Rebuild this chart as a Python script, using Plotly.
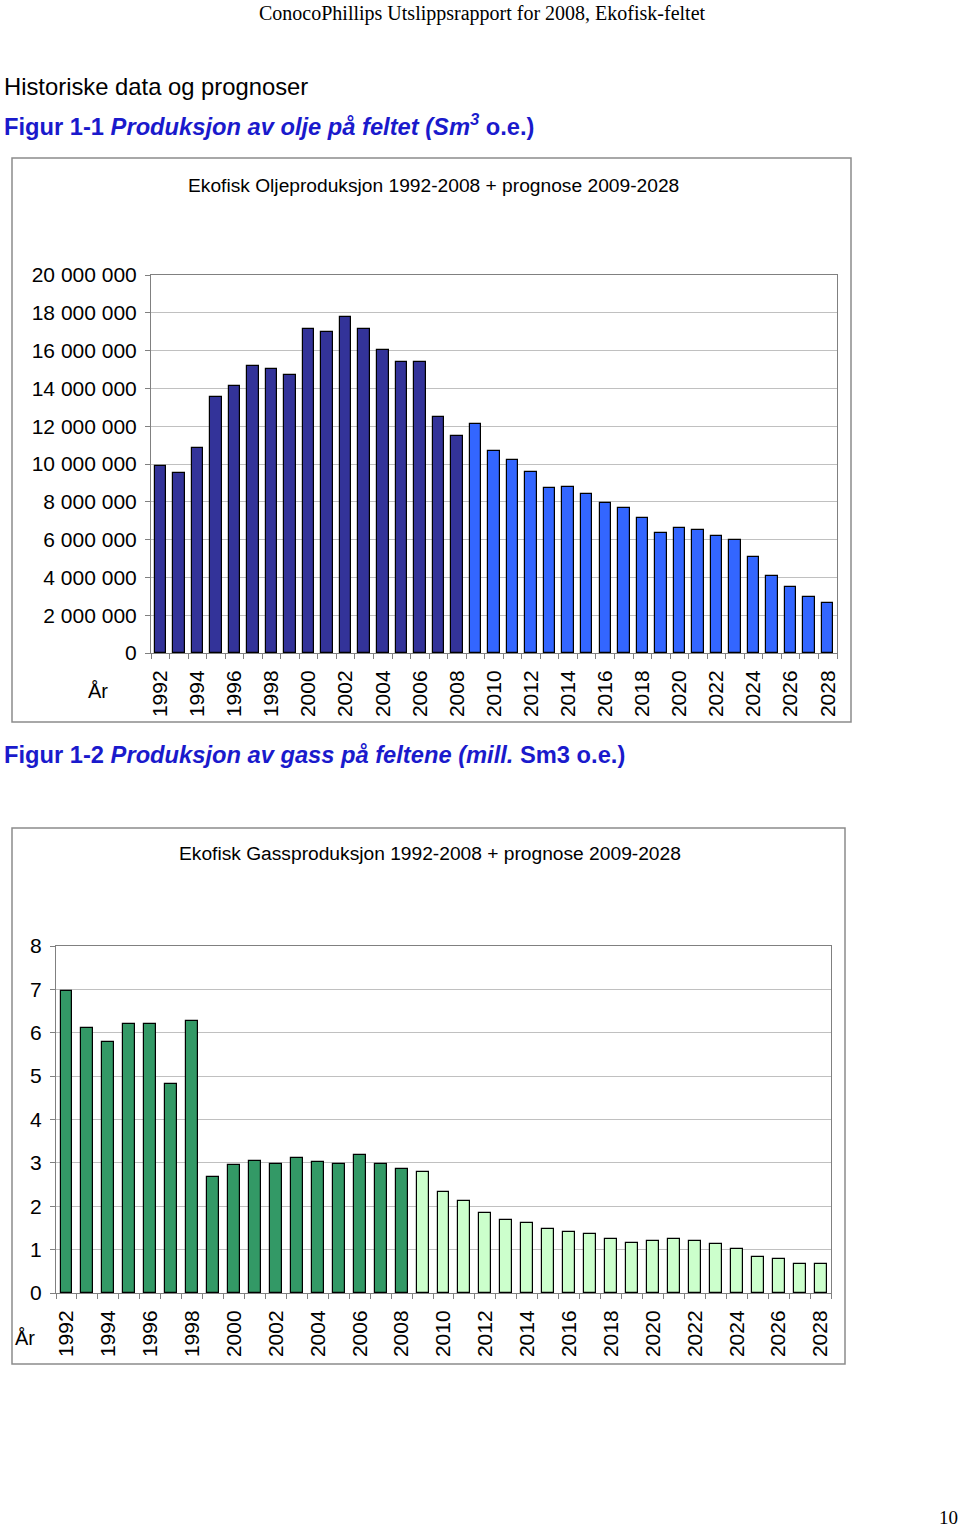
import plotly.graph_objects as go

# ---------------- data ----------------
hist_years = list(range(1992, 2009))
prog_years = list(range(2009, 2029))
tick_years = list(range(1992, 2029, 2))
tick_text = [str(y) for y in tick_years]

oil_hist = [9.89e6, 9.51e6, 10.83e6, 13.53e6, 14.15e6, 15.17e6, 15.01e6, 14.69e6,
            17.14e6, 16.98e6, 17.76e6, 17.14e6, 16.03e6, 15.41e6, 15.41e6, 12.50e6, 11.48e6]
oil_prog = [12.10e6, 10.69e6, 10.21e6, 9.59e6, 8.71e6, 8.80e6, 8.40e6, 7.92e6, 7.69e6, 7.13e6,
            6.35e6, 6.60e6, 6.51e6, 6.19e6, 5.96e6, 5.10e6, 4.07e6, 3.51e6, 2.95e6, 2.66e6]
oil_yvals = [0, 2e6, 4e6, 6e6, 8e6, 10e6, 12e6, 14e6, 16e6, 18e6, 20e6]
oil_ytext = ["0", "2 000 000", "4 000 000", "6 000 000", "8 000 000", "10 000 000",
             "12 000 000", "14 000 000", "16 000 000", "18 000 000", "20 000 000"]

gas_hist = [6.96, 6.10, 5.79, 6.20, 6.20, 4.83, 6.28, 2.67, 2.94, 3.05, 2.97, 3.12,
            3.01, 2.97, 3.18, 2.97, 2.87]
gas_prog = [2.78, 2.33, 2.12, 1.85, 1.68, 1.61, 1.47, 1.40, 1.36, 1.25, 1.16, 1.20,
            1.25, 1.20, 1.12, 1.02, 0.82, 0.78, 0.68, 0.68]
gas_yvals = [0, 1, 2, 3, 4, 5, 6, 7, 8]

# ---------------- layout helpers ----------------
W, H = 960, 1530
def px(x):
    return x / W
def py(y):
    return 1 - y / H

FONT = "Liberation Sans, Arial, sans-serif"
SERIF = "Liberation Serif, Times New Roman, serif"
GRID = "#c0c0c0"
AXIS = "#808080"
BLUE = "#1a1acc"

fig = go.Figure()

fig.add_trace(go.Bar(x=hist_years, y=oil_hist, marker=dict(color="#333399", line=dict(color="#000000", width=1.2)),
                     width=0.62, xaxis="x", yaxis="y", showlegend=False))
fig.add_trace(go.Bar(x=prog_years, y=oil_prog, marker=dict(color="#3366FF", line=dict(color="#000000", width=1.2)),
                     width=0.62, xaxis="x", yaxis="y", showlegend=False))
fig.add_trace(go.Bar(x=hist_years, y=gas_hist, marker=dict(color="#339966", line=dict(color="#000000", width=1.2)),
                     width=0.57, xaxis="x2", yaxis="y2", showlegend=False))
fig.add_trace(go.Bar(x=prog_years, y=gas_prog, marker=dict(color="#CCFFCC", line=dict(color="#000000", width=1.2)),
                     width=0.57, xaxis="x2", yaxis="y2", showlegend=False))

xcommon = dict(range=[1991.5, 2028.5], tickmode="array", tickvals=tick_years, ticktext=tick_text,
               tickangle=-90, ticks="", showgrid=False, showline=True, linecolor=AXIS, linewidth=1,
               mirror=True, zeroline=False, automargin=False,
               minor=dict(ticks="outside", tick0=1991.5, dtick=1, ticklen=5, tickcolor=AXIS, showgrid=False),
               tickfont=dict(family=FONT, size=21, color="#000000"), ticklabelstandoff=8)
ycommon = dict(showgrid=True, gridcolor=GRID, gridwidth=1, showline=True, linecolor=AXIS, linewidth=1,
               mirror=True, zeroline=False, ticks="outside", ticklen=5, tickcolor=AXIS, automargin=False,
               tickfont=dict(family=FONT, size=21, color="#000000"), ticklabelstandoff=4)

fig.update_layout(
    width=W, height=H, margin=dict(l=0, r=0, t=0, b=0, autoexpand=False),
    paper_bgcolor="#ffffff", plot_bgcolor="#ffffff", bargap=0, barmode="overlay",
    xaxis=dict(domain=[px(151), px(837)], anchor="y", **xcommon),
    yaxis=dict(domain=[py(653), py(275)], anchor="x", range=[0, 20e6], tickmode="array",
               tickvals=oil_yvals, ticktext=oil_ytext, **ycommon),
    xaxis2=dict(domain=[px(56), px(831)], anchor="y2", **xcommon),
    yaxis2=dict(domain=[py(1293), py(946)], anchor="x2", range=[0, 8], tickmode="array",
                tickvals=gas_yvals, ticktext=[str(v) for v in gas_yvals], **ycommon),
)

# chart frames
fig.add_shape(type="rect", xref="paper", yref="paper", x0=px(12), x1=px(851), y0=py(722), y1=py(158),
              line=dict(color="#8c8c8c", width=1.5), layer="below")
fig.add_shape(type="rect", xref="paper", yref="paper", x0=px(12), x1=px(845), y0=py(1364), y1=py(828),
              line=dict(color="#8c8c8c", width=1.5), layer="below")

def note(x, y, text, size, xanchor="left", color="#000000", family=FONT, yanchor="middle"):
    fig.add_annotation(x=px(x), y=py(y), xref="paper", yref="paper", text=text, showarrow=False,
                       xanchor=xanchor, yanchor=yanchor, font=dict(family=family, size=size, color=color))

note(482, 0, "ConocoPhillips Utslippsrapport for 2008, Ekofisk-feltet", 20, "center",
     family=SERIF, yanchor="top")
note(2, 86, "Historiske data og prognoser", 23.8)
note(2, 125, "<b>Figur 1-1 <i>Produksjon av olje på feltet (Sm</i><sup><i>3</i></sup> o.e.)</b>", 23.7,
     color=BLUE)
note(433, 185, "Ekofisk Oljeproduksjon 1992-2008 + prognose 2009-2028", 19.2, "center")
note(98, 691, "År", 20, "center")
note(2, 755, "<b>Figur 1-2 <i>Produksjon av gass på feltene (mill.</i> Sm3 o.e.)</b>", 23.7, color=BLUE)
note(430, 853, "Ekofisk Gassproduksjon 1992-2008 + prognose 2009-2028", 19.2, "center")
note(25, 1338, "År", 20, "center")
note(960, 1530, "10", 19, "right", family=SERIF, yanchor="bottom")

fig.write_html("out.html", config={"displayModeBar": False},
               post_script="document.body.style.margin='0';")
